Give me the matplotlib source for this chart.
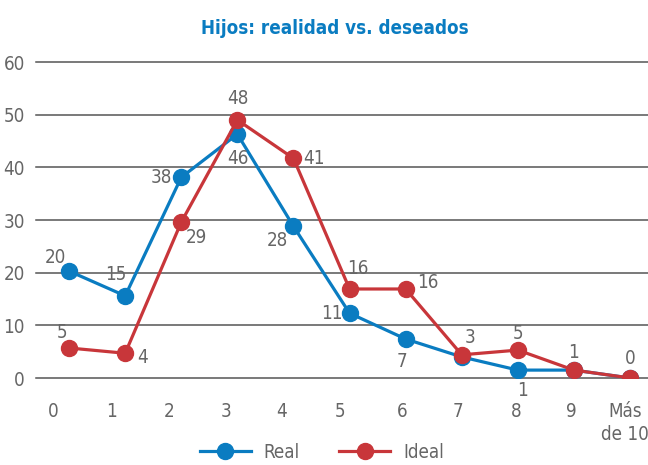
import matplotlib
matplotlib.use('Agg')
from matplotlib import pyplot as plt
from matplotlib import transforms

plt.rcParams['font.family'] = ['DejaVu Sans']
plt.rcParams['font.stretch'] = 'condensed'

categorias = ['0', '1', '2', '3', '4', '5', '6', '7', '8', '9', 'Más\nde 10']
real = [20.3, 15.6, 38.1, 46.3, 28.8, 12.3, 7.4, 4.0, 1.5, 1.5, 0.0]
ideal = [5.7, 4.7, 29.6, 49.0, 41.7, 16.9, 16.9, 4.4, 5.3, 1.5, 0.0]
etiq_real = ['20', '15', '38', '46', '28', '11', '7', '', '1', '', '']
etiq_ideal = ['5', '4', '29', '48', '41', '16', '16', '3', '5', '1', '0']

# label offsets in pixels (dx, dy)
off_real = [(-14, 14), (-9, 21), (-20, 0), (0, -24), (-16, -14), (-18, 0),
            (-4, -22), (0, 0), (5, -20), (0, 0), (0, 0)]
off_ideal = [(-7, 15), (17, -4), (15, -15), (0, 21), (20, 0), (8, 20),
             (22, 6), (8, 17), (0, 17), (0, 18), (0, 20)]
# tick label shifts in pixels
tick_dx = [-16, -14, -12, -11, -12, -10, -3, -4, -2, -3, -5]

AZUL = '#0a7cc1'
ROJO = '#c8363a'
GRIS = '#666666'
FS = 13.5

fig = plt.figure(figsize=(6.48, 4.65), dpi=100)
ax = fig.add_axes([36/648, 1-378/465, 1-36/648, (378-62)/465])
x = list(range(len(categorias)))

ax.plot(x, real, color=AZUL, lw=2.3, marker='o', ms=11.5, label='Real', zorder=3)
ax.plot(x, ideal, color=ROJO, lw=2.3, marker='o', ms=11.5, label='Ideal', zorder=4)

for xs, ys, labs, offs in [(x, real, etiq_real, off_real), (x, ideal, etiq_ideal, off_ideal)]:
    for xi, yi, lab, (dx, dy) in zip(xs, ys, labs, offs):
        if lab:
            ax.annotate(lab, (xi, yi), xytext=(dx*0.72, dy*0.72), textcoords='offset points',
                        ha='center', va='center', fontsize=FS, color=GRIS)

ax.set_xlim(-0.59, 10.32)
ax.set_ylim(0, 60)
ax.set_yticks(range(0, 61, 10))
ax.yaxis.grid(True, color='#555555', lw=1.1)
ax.set_axisbelow(True)
for s in ax.spines.values():
    s.set_visible(False)
ax.set_xticks(x)
ax.set_xticklabels(categorias)
ax.tick_params(axis='both', length=0, labelsize=FS, labelcolor=GRIS)
ax.tick_params(axis='y', pad=8)
ax.tick_params(axis='x', pad=17)
for t, dx in zip(ax.get_xticklabels(), tick_dx):
    t.set_transform(t.get_transform() + transforms.ScaledTranslation(dx/100, 0, fig.dpi_scale_trans))
    t.set_linespacing(1.3)
for line in ax.get_ygridlines():
    line.set_clip_on(False)

fig.text(335/648, 1-28/465, 'Hijos: realidad vs. deseados', ha='center', va='center',
         fontsize=13.5, fontweight='bold', color=AZUL)

fig.legend(loc='center', bbox_to_anchor=(322/648, 1-452/465), ncol=2, frameon=False,
           fontsize=FS, handlelength=2.7, handletextpad=0.7, columnspacing=2.1,
           labelcolor=GRIS)

fig.savefig('out.png', dpi=100)
